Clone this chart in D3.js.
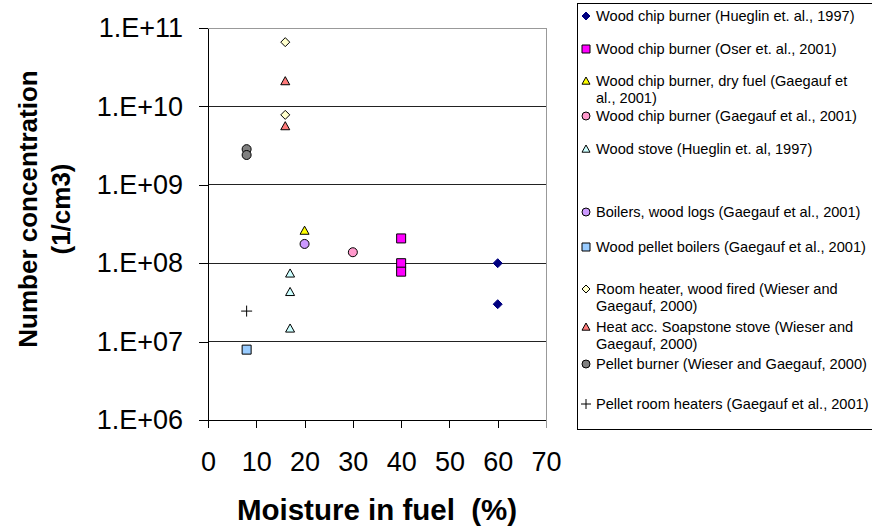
<!DOCTYPE html>
<html>
<head>
<meta charset="utf-8">
<script src="https://cdn.jsdelivr.net/npm/d3@7"></script>
<style>
  body { margin: 0; background: #fff; }
  svg { display: block; font-family: Arial, "Liberation Sans", sans-serif; }
  text { white-space: pre; }
</style>
</head>
<body>
<svg id="chart" width="872" height="526"></svg>
<script>
// Particle number concentration vs. fuel moisture for wood combustion appliances
const seriesNames = [
  "Wood chip burner (Hueglin et. al., 1997)",
  "Wood chip burner (Oser et. al., 2001)",
  "Wood chip burner, dry fuel (Gaegauf et al., 2001)",
  "Wood chip burner (Gaegauf et al., 2001)",
  "Wood stove (Hueglin et. al, 1997)",
  "Boilers, wood logs (Gaegauf et al., 2001)",
  "Wood pellet boilers (Gaegauf et al., 2001)",
  "Room heater, wood fired (Wieser and Gaegauf, 2000)",
  "Heat acc. Soapstone stove (Wieser and Gaegauf, 2000)",
  "Pellet burner (Wieser and Gaegauf, 2000)",
  "Pellet room heaters (Gaegauf et al., 2001)"
];
// moisture (%) per series
const moisture = [
  [60, 60],
  [40, 40, 40],
  [20],
  [30],
  [17, 17, 17],
  [20],
  [8],
  [16, 16],
  [16, 16],
  [8, 8],
  [8]
];
// number concentration (1/cm3) per series
const concentration = [
  [1.0e8, 3.0e7],
  [2.07e8, 1.0e8, 7.8e7],
  [2.6e8],
  [1.38e8],
  [7.4e7, 4.3e7, 1.47e7],
  [1.76e8],
  [7.9e6],
  [6.6e10, 7.8e9],
  [2.1e10, 5.6e9],
  [2.85e9, 2.4e9],
  [2.45e7]
];
const xTicks = [0, 10, 20, 30, 40, 50, 60, 70];
const yTicks = [1e6, 1e7, 1e8, 1e9, 1e10, 1e11];
const yTickLabels = ["1.E+06", "1.E+07", "1.E+08", "1.E+09", "1.E+10", "1.E+11"];
const symbolTypes = ["diamond", "square", "triangle", "circle", "triangle", "circle", "square", "diamond", "triangle", "circle", "plus"];
const fills = ["#000080", "#FF00FF", "#FFFF00", "#FF99CC", "#CCFFFF", "#CC99FF", "#99CCFF", "#FFFFCC", "#FF7B7B", "#808080", "none"];
const strokes = ["#000080", "#000000", "#000000", "#000000", "#000000", "#000000", "#000000", "#000000", "#000000", "#000000", "#000000"];

const svg = d3.select("#chart");
const plot = { left: 208, right: 546, top: 28, bottom: 420 };

const x = d3.scaleLinear().domain([0, 70]).range([plot.left, plot.right]);
const y = d3.scaleLog().domain([1e6, 1e11]).range([plot.bottom, plot.top]);

// marker path generator (w is the nominal width in px)
function markerPath(type, w) {
  const h = w / 2;
  switch (type) {
    case "diamond": return `M0,${-h}L${h},0L0,${h}L${-h},0Z`;
    case "square": return `M${-h},${-h}H${h}V${h}H${-h}Z`;
    case "triangle": return `M0,${-h}L${h},${h * 0.8}L${-h},${h * 0.8}Z`;
    case "circle": return d3.symbol(d3.symbolCircle, Math.PI * h * h)();
    case "plus": return `M${-h},0H${h}M0,${-h}V${h}`;
  }
}

// horizontal gridlines
svg.append("g")
  .selectAll("line")
  .data(yTicks.slice(1, -1))
  .join("line")
  .attr("x1", plot.left).attr("x2", plot.right)
  .attr("y1", d => y(d)).attr("y2", d => y(d))
  .attr("stroke", "#222").attr("stroke-width", 1)
  .attr("shape-rendering", "crispEdges");

// plot-area frame: top and right edges
svg.append("path")
  .attr("d", `M${plot.left},${plot.top}H${plot.right}V${plot.bottom}`)
  .attr("fill", "none").attr("stroke", "#999").attr("stroke-width", 1)
  .attr("shape-rendering", "crispEdges");

// y axis
const yAxis = d3.axisLeft(y)
  .tickValues(yTicks)
  .tickFormat((d, i) => yTickLabels[i])
  .tickSizeInner(9).tickSizeOuter(0).tickPadding(16);
const gy = svg.append("g").attr("transform", `translate(${plot.left},0)`).call(yAxis);
gy.selectAll("text").attr("font-size", 27).attr("fill", "#000").attr("font-family", "Arial, 'Liberation Sans', sans-serif");
gy.selectAll("line, path").attr("stroke", "#000").attr("shape-rendering", "crispEdges");

// x axis
const xAxis = d3.axisBottom(x)
  .tickValues(xTicks)
  .tickSizeInner(8).tickSizeOuter(0).tickPadding(24);
const gx = svg.append("g").attr("transform", `translate(0,${plot.bottom})`).call(xAxis);
gx.selectAll("text").attr("font-size", 27).attr("fill", "#000").attr("font-family", "Arial, 'Liberation Sans', sans-serif");
gx.selectAll("line, path").attr("stroke", "#000").attr("shape-rendering", "crispEdges");
gx.select(".tick:last-of-type line").attr("stroke", "#999");

// axis titles
svg.append("text")
  .attr("x", (plot.left + plot.right) / 2).attr("y", 520)
  .attr("text-anchor", "middle")
  .attr("font-size", 29.5).attr("font-weight", "bold")
  .text("Moisture in fuel  (%)");

const yTitle = svg.append("text")
  .attr("transform", "translate(0,209) rotate(-90)")
  .attr("text-anchor", "middle")
  .attr("font-size", 26).attr("font-weight", "bold");
yTitle.append("tspan").attr("x", 0).attr("y", 37).text("Number concentration");
yTitle.append("tspan").attr("x", 0).attr("y", 70).text("(1/cm3)");

// data markers
const points = [];
seriesNames.forEach((name, i) => {
  moisture[i].forEach((m, j) => points.push({ s: i, m, c: concentration[i][j] }));
});
svg.append("g")
  .selectAll("path")
  .data(points)
  .join("path")
  .attr("transform", d => `translate(${x(d.m)},${y(d.c)})`)
  .attr("d", d => markerPath(symbolTypes[d.s], symbolTypes[d.s] === "plus" ? 11 : 9))
  .attr("fill", d => fills[d.s])
  .attr("stroke", d => strokes[d.s])
  .attr("stroke-width", 1);

// legend
const legendY = [16, 49, 81, 116, 149, 212, 247, 289, 327, 364, 404];
const legendWrap = {
  2: ["Wood chip burner, dry fuel (Gaegauf et", "al., 2001)"],
  7: ["Room heater, wood fired (Wieser and", "Gaegauf, 2000)"],
  8: ["Heat acc. Soapstone stove (Wieser and", "Gaegauf, 2000)"]
};
svg.append("rect")
  .attr("x", 577.5).attr("y", 3.5).attr("width", 320).attr("height", 426)
  .attr("fill", "#fff").attr("stroke", "#000").attr("stroke-width", 1);
const lg = svg.append("g")
  .selectAll("g")
  .data(seriesNames)
  .join("g")
  .attr("transform", (d, i) => `translate(586,${legendY[i]})`);
lg.append("path")
  .attr("d", (d, i) => markerPath(symbolTypes[i], symbolTypes[i] === "plus" ? 10 : 8))
  .attr("fill", (d, i) => fills[i])
  .attr("stroke", (d, i) => strokes[i])
  .attr("stroke-width", 1);
lg.append("text")
  .attr("x", 10).attr("y", 5)
  .attr("font-size", 14.6).attr("fill", "#000")
  .each(function (d, i) {
    const lines = legendWrap[i] || [d];
    lines.forEach((t, k) => {
      d3.select(this).append("tspan").attr("x", 10).attr("dy", k === 0 ? 0 : 17).text(t);
    });
  });
</script>
</body>
</html>
